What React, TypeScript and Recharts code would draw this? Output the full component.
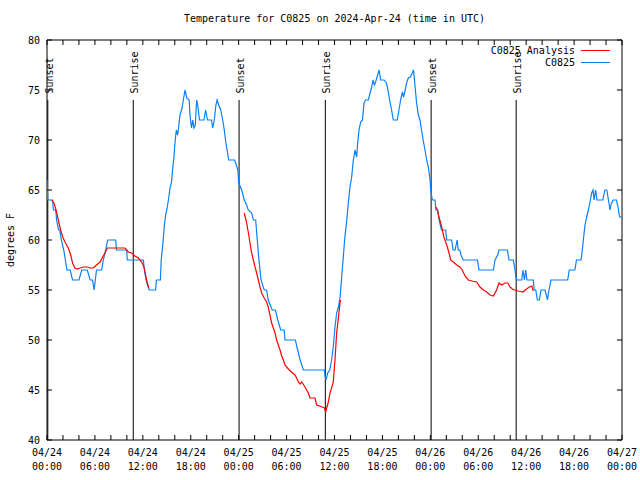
import {
  LineChart,
  Line,
  XAxis,
  YAxis,
  ReferenceLine,
  ReferenceArea,
  Legend,
} from "recharts";

// observed temperatures (deg F) at hours since 04/24 00:00 UTC
const obsHours = [
  0, 0.1, 0.7, 0.8, 1.1, 1.2, 1.45, 1.6, 1.8, 2.1, 2.3, 2.5, 2.9, 3.2, 4.0, 4.35, 5.05, 5.4, 5.7, 5.9,
  6.2, 6.85, 7.05, 7.35, 7.6, 8.6, 8.7, 9.98, 10.05, 12.06, 12.2, 12.4, 12.8, 13.6, 13.7, 14.2, 14.3,
  14.5, 14.7, 14.85, 15.0, 15.2, 15.4, 15.6, 15.7, 15.9, 16.0, 16.15, 16.2, 16.35, 16.45, 16.65, 16.86,
  17.07, 17.28, 17.5, 17.8, 17.9, 18.1, 18.25, 18.4, 18.57, 18.74, 18.87, 19.1, 19.66, 19.86, 20.1,
  20.6, 20.75, 20.95, 21.15, 21.3, 21.5, 21.75, 22.0, 22.2, 22.4, 22.6, 22.75, 23.5, 23.7, 23.9, 24.0,
  24.28, 24.45, 24.7, 25.0, 25.2, 25.63, 25.84, 26.13, 26.26, 26.46, 26.67, 26.8, 27.2, 27.5, 27.7,
  28.2, 28.6, 28.9, 29.26, 29.7, 29.8, 31.1, 31.39, 31.7, 32.1, 34.73, 34.8, 34.93, 35.14, 35.4, 35.64,
  35.85, 36.06, 36.27, 36.5, 36.7, 36.9, 37.1, 37.3, 37.5, 37.73, 37.94, 38.15, 38.36, 38.57, 38.78,
  38.9, 39.07, 39.28, 39.5, 39.7, 39.9, 40.24, 40.45, 40.66, 40.82, 41.0, 41.15, 41.4, 41.6, 41.77,
  42.2, 42.5, 42.7, 42.9, 43.15, 43.36, 43.86, 44.07, 44.28, 44.5, 44.65, 44.8, 45.03, 45.24, 45.5,
  45.74, 45.9, 46.07, 46.28, 46.5, 46.7, 46.9, 47.1, 47.33, 47.54, 47.75, 47.96, 48.08, 48.25, 48.58,
  48.7, 48.9, 49.1, 49.25, 49.4, 49.92, 50.05, 50.67, 50.85, 51.1, 51.35, 51.5, 51.7, 51.84, 52.13,
  53.9, 54.1, 55.9, 56.1, 56.43, 56.6, 57.65, 57.85, 58.4, 58.6, 58.73, 58.86, 59.44, 59.6, 59.78,
  59.95, 60.1, 60.9, 61.0, 61.2, 61.4, 61.65, 61.86, 62.35, 62.53, 62.66, 62.86, 63.11, 65.2, 65.4,
  66.1, 66.3, 66.87, 67.03, 67.2, 67.37, 67.58, 67.79, 68.0, 68.2, 68.37, 68.5, 68.7, 68.87, 69.6,
  69.86, 70.1, 70.3, 70.5, 70.65, 70.87, 71.3, 71.5, 71.7, 72.0,
];
const obsTemps = [
  66, 64, 64, 63, 63, 62, 61, 61, 60, 59, 58, 57, 57, 56, 56, 57, 57, 56, 56, 55,
  57, 57, 58, 59, 60, 60, 59, 59, 58, 58, 57, 56, 55, 55, 56, 56, 58,
  59.5, 61.5, 62.5, 63, 64, 65.2, 65.8, 66.8, 68.3, 69.5, 70.7, 71, 70.5, 71, 72.5, 73,
  74, 75, 74.2, 74, 72.5, 71.2, 72, 71.2, 71.5, 74, 73.5, 72, 72, 73, 72,
  72, 71.2, 72, 73.5, 74, 73.5, 73, 72, 71, 69.7, 68.8, 68, 68, 67.5, 67, 65.7,
  65.2, 64.8, 64, 63.5, 63, 62.7, 62, 62, 60.7, 58.7, 57, 56, 55, 55, 54,
  53, 53, 52, 51, 51, 50, 50, 49, 48, 47, 47, 46.5, 46, 46.7, 47, 48,
  49.3, 51.3, 52.7, 53.3, 54.3, 56.3, 58.3, 60.3, 61.7, 63.7, 65.3, 66.3, 68, 69, 68.3,
  69.7, 71, 71.8, 72, 73.7, 74, 74, 74.7, 75.3, 76, 75.5, 75.8, 76.5, 77, 76,
  76, 75.7, 75, 74, 73, 72, 72, 73, 74, 74.8, 74.3, 74.8, 75.7, 76.2, 76.3,
  76.7, 77, 75.5, 73.7, 72.5, 72, 71, 70, 69, 68, 67.3, 66, 64.8, 64, 64,
  63, 63, 62, 61.5, 61, 61, 60, 60, 59, 59, 60, 59, 59, 58.5, 58,
  58, 57, 57, 58, 58.5, 59, 59, 58, 58, 57, 56.2, 56, 56, 57, 56,
  57, 56, 56, 55, 55, 54, 54, 55, 55, 54.5, 54, 55, 56, 56, 57,
  57, 58, 58, 59, 60.3, 61.5, 62.3, 63, 63.8, 64.7, 65, 64, 65, 64, 64,
  65, 65, 64, 63, 63.6, 64, 64, 63.3, 62.3, 62.3,
];

// analysis temperatures, null marks a gap between runs
const anaHours = [
  0.58, 0.88, 1.13, 1.42, 1.7, 1.97, 2.25, 2.67, 2.97, 3.2, 3.5, 3.8, 4.13, 4.55, 5.05, 5.4, 5.8,
  6.2, 6.64, 6.97, 7.26, 7.55, 8.1, 8.72, 9.77, 10.18, 10.6, 11.0, 11.44, 11.85, 12.14, 12.3, 12.48,
  12.7, 12.77, 18,
  24.7, 25.0, 25.2, 25.4, 25.6, 25.84, 26.05, 26.25, 26.46, 26.67, 26.88, 27.2, 27.5, 27.7, 27.92,
  28.13, 28.34, 28.55, 28.75, 28.97, 29.18, 29.39, 29.6, 29.8, 30.22, 30.6, 31.05, 31.26, 31.47,
  31.7, 31.9, 32.3, 32.72, 32.93, 33.55, 33.77, 34.47, 34.73, 34.9, 35.06, 35.23, 35.44, 35.64,
  35.85, 36.06, 36.27, 36.5, 36.7, 36.8, 42,
  48.7, 48.9, 49.08, 49.3, 49.5, 49.7, 49.92, 50.13, 50.34, 50.55, 50.88, 51.3, 51.7, 52.0, 52.35,
  52.76, 53.2, 53.8, 54.22, 54.64, 55.05, 55.47, 55.9, 56.3, 56.6, 56.93, 57.35, 57.7, 58.0, 58.27,
  58.6, 59.0, 59.6, 60.05, 60.4, 60.7, 60.9,
];
const anaTemps = [
  64, 63.7, 63, 62, 61, 60.3, 59.8, 59.2, 58.5, 57.7, 57.2, 57.1, 57.2, 57.3, 57.3, 57.2, 57.2,
  57.5, 57.8, 58.3, 58.7, 59.2, 59.2, 59.2, 59.2, 58.8, 58.7, 58.4, 58.2, 57.8, 57.3, 56.7, 56,
  55.3, 55.2, null,
  62.7, 61.7, 60.8, 59.8, 58.8, 58, 57.3, 56.7, 56, 55.3, 54.7, 54.2, 53.8, 53.3, 52.5,
  51.7, 51.2, 50.7, 50, 49.5, 49, 48.4, 48, 47.5, 47.1, 46.8, 46.5, 46.2, 45.8,
  45.6, 45.8, 45.3, 44.7, 44.2, 44.2, 43.5, 43.3, 43.2, 42.8, 43.3, 43.8, 44.7, 45.2,
  45.8, 48, 50.7, 52.3, 53.8, 54, null,
  63.3, 63, 62.3, 61.7, 61, 60.3, 59.8, 59.3, 58.7, 58, 57.8, 57.5, 57.3, 57, 56.4,
  56, 55.9, 55.8, 55.3, 55, 54.8, 54.5, 54.4, 55, 55.7, 55.5, 55.7, 55.7, 55.3, 55.1,
  55, 54.9, 54.8, 55.1, 55.3, 55.4, 54.9,
];

const sunHours = [0.1, 10.8, 24.05, 34.85, 48.1, 58.75];
const sunNames = ["Sunset", "Sunrise", "Sunset", "Sunrise", "Sunset", "Sunrise"];

const hourTicks = [
  0, 2, 4, 6, 8, 10, 12, 14, 16, 18, 20, 22, 24, 26, 28, 30, 32, 34, 36,
  38, 40, 42, 44, 46, 48, 50, 52, 54, 56, 58, 60, 62, 64, 66, 68, 70, 72,
];
const labelHours = [0, 6, 12, 18, 24, 30, 36, 42, 48, 54, 60, 66, 72];
const dayLabels = [
  "04/24", "04/24", "04/24", "04/24", "04/25", "04/25", "04/25",
  "04/25", "04/26", "04/26", "04/26", "04/26", "04/27",
];
const timeLabels = [
  "00:00", "06:00", "12:00", "18:00", "00:00", "06:00", "12:00",
  "18:00", "00:00", "06:00", "12:00", "18:00", "00:00",
];
const tempTicks = [40, 45, 50, 55, 60, 65, 70, 75, 80];

const legendItems = [
  { name: "C0825 Analysis", color: "#ff0000" },
  { name: "C0825", color: "#0a80f5" },
];

const FONT = "'DejaVu Sans Mono', monospace";
const W = 640;
const H = 480;
const M = { top: 40, right: 18, bottom: 0, left: 0 };
const Y_AXIS_W = 47;
const X_AXIS_H = 40;
const PLOT_W = W - M.right - Y_AXIS_W;
const PLOT_H = H - M.top - X_AXIS_H;
const TICK = 5;

const obsData = obsHours.map((h, i) => ({ h, t: obsTemps[i] }));
const anaData = anaHours.map((h, i) => ({ h, t: anaTemps[i] }));

function HourTick({ x, y, payload }: any) {
  const k = labelHours.indexOf(payload.value);
  return (
    <g>
      <line x1={x} y1={y} x2={x} y2={y - TICK} stroke="#000" />
      <line x1={x} y1={y - PLOT_H} x2={x} y2={y - PLOT_H + TICK} stroke="#000" />
      {k >= 0 && (
        <text x={x} y={y + 16} textAnchor="middle" fontSize={10} fontFamily={FONT} fill="#000">
          <tspan x={x}>{dayLabels[k]}</tspan>
          <tspan x={x} dy={14}>{timeLabels[k]}</tspan>
        </text>
      )}
    </g>
  );
}

function TempTick({ x, y, payload }: any) {
  return (
    <g>
      <line x1={x} y1={y} x2={x + TICK} y2={y} stroke="#000" />
      <line x1={x + PLOT_W} y1={y} x2={x + PLOT_W - TICK} y2={y} stroke="#000" />
      <text x={x - 7} y={y + 4} textAnchor="end" fontSize={10} fontFamily={FONT} fill="#000">
        {payload.value}
      </text>
    </g>
  );
}

function SunLabel({ viewBox, text }: any) {
  if (!viewBox) return null;
  const tx = viewBox.x + 5;
  const ty = viewBox.y - 6.5;
  return (
    <text
      x={tx}
      y={ty}
      transform={`rotate(-90, ${tx}, ${ty})`}
      textAnchor="start"
      fontSize={10}
      fontFamily={FONT}
      fill="#000"
    >
      {text}
    </text>
  );
}

function YLabel({ viewBox }: any) {
  const cy = viewBox ? viewBox.y + viewBox.height / 2 : 240;
  return (
    <text
      x={14}
      y={cy}
      transform={`rotate(-90, 14, ${cy})`}
      textAnchor="middle"
      fontSize={10}
      fontFamily={FONT}
      fill="#000"
    >
      degrees F
    </text>
  );
}

function LegendBox() {
  return (
    <div style={{ fontFamily: FONT, fontSize: 10, color: "#000" }}>
      {legendItems.map((it) => (
        <div
          key={it.name}
          style={{ display: "flex", justifyContent: "flex-end", alignItems: "center", height: 12 }}
        >
          <span style={{ whiteSpace: "pre" }}>{it.name}</span>
          <span
            style={{
              display: "inline-block",
              width: 29,
              height: 0,
              borderTop: `1px solid ${it.color}`,
              marginLeft: 6,
              marginRight: 5,
            }}
          />
        </div>
      ))}
    </div>
  );
}

export default function App() {
  return (
    <div style={{ position: "absolute", left: 0, top: 0, width: W, height: H, background: "#fff" }}>
      <div
        style={{
          position: "absolute",
          left: Y_AXIS_W,
          width: PLOT_W,
          top: 13,
          textAlign: "center",
          fontFamily: FONT,
          fontSize: 10,
          lineHeight: "12px",
          color: "#000",
        }}
      >
        Temperature for C0825 on 2024-Apr-24 (time in UTC)
      </div>
      <LineChart width={W} height={H} margin={M}>
        <XAxis
          dataKey="h"
          type="number"
          domain={[0, 72]}
          ticks={hourTicks}
          interval={0}
          allowDataOverflow
          height={X_AXIS_H}
          axisLine={false}
          tickLine={false}
          tickSize={0}
          tickMargin={0}
          tick={<HourTick />}
        />
        <YAxis
          type="number"
          domain={[40, 80]}
          ticks={tempTicks}
          interval={0}
          allowDataOverflow
          width={Y_AXIS_W}
          axisLine={false}
          tickLine={false}
          tickSize={0}
          tickMargin={0}
          tick={<TempTick />}
          label={<YLabel />}
        />
        <ReferenceArea x1={0} x2={72} y1={40} y2={80} fill="none" stroke="#000" strokeWidth={1} />
        {sunHours.map((h, i) => (
          <ReferenceLine
            key={`sun-${i}`}
            segment={[
              { x: h, y: 40 },
              { x: h, y: 74 },
            ]}
            stroke="#000"
            strokeWidth={1}
            label={<SunLabel text={sunNames[i]} />}
          />
        ))}
        <Line
          data={obsData}
          dataKey="t"
          name="C0825"
          type="linear"
          stroke={legendItems[1].color}
          strokeWidth={1.2}
          dot={false}
          isAnimationActive={false}
        />
        <Line
          data={anaData}
          dataKey="t"
          name="C0825 Analysis"
          type="linear"
          stroke={legendItems[0].color}
          strokeWidth={1.2}
          dot={false}
          connectNulls={false}
          isAnimationActive={false}
        />
        <Legend
          layout="vertical"
          align="center"
          verticalAlign="middle"
          wrapperStyle={{ top: 44, left: 440, width: 175 }}
          content={<LegendBox />}
        />
      </LineChart>
    </div>
  );
}
